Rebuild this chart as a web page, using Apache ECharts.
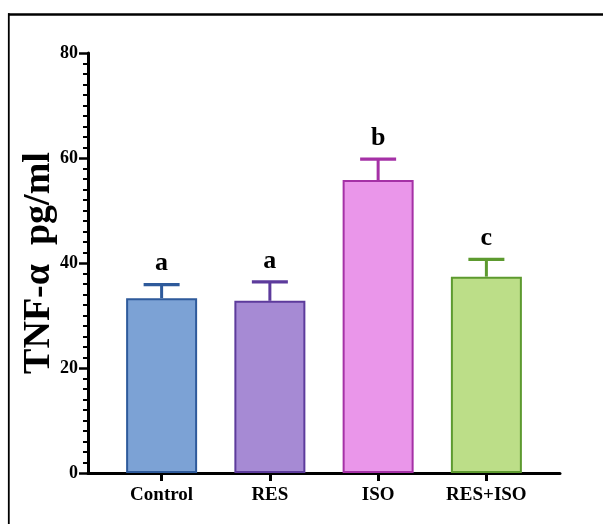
<!DOCTYPE html>
<html>
<head>
<meta charset="utf-8">
<script src="https://cdn.jsdelivr.net/npm/echarts@6/dist/echarts.min.js"></script>
<style>
html,body{margin:0;padding:0;background:#fff;}
#c{width:603px;height:524px;}
</style>
</head>
<body>
<div id="c"></div>
<script>
// ---- data ----
var categories = ['Control', 'RES', 'ISO', 'RES+ISO'];
var means = [33.3, 32.8, 55.8, 37.4];
var errors = [2.6, 3.6, 4.0, 3.3];
var letters = ['a', 'a', 'b', 'c'];
var yTicks = [0, 20, 40, 60, 80];
// ---- styles ----
var fills = ['#7ca2d5', '#a68ad4', '#ea96ea', '#bcde88'];
var borders = ['#2e5a9b', '#5d3b9c', '#a531a6', '#5d9a2f'];
var FONT = 'Liberation Serif';

var chart = echarts.init(document.getElementById('c'), null, {renderer: 'canvas'});

var idx = categories.map(function (_, i) { return i; });

var barData = means.map(function (m, i) {
  return {
    value: [i, m],
    itemStyle: {color: fills[i], borderColor: borders[i], borderWidth: 2}
  };
});
var errData = means.map(function (m, i) { return [i, m, m + errors[i]]; });

var option = {
  animation: false,
  backgroundColor: '#fff',
  graphic: [
    {type: 'line', silent: true, shape: {x1: 8, y1: 14.5, x2: 603, y2: 14.5}, style: {stroke: '#000', lineWidth: 2.4}},
    {type: 'line', silent: true, shape: {x1: 8.8, y1: 13.3, x2: 8.8, y2: 524}, style: {stroke: '#000', lineWidth: 1.8}}
  ],
  grid: {left: 88, top: 53, width: 472, height: 420, containLabel: false},
  xAxis: {
    type: 'value',
    min: -0.68,
    max: 3.68,
    splitLine: {show: false},
    axisLine: {show: true, onZero: false, lineStyle: {color: '#000', width: 3}},
    axisTick: {show: true, customValues: idx, length: 8, lineStyle: {color: '#000', width: 3}},
    axisLabel: {
      show: true,
      customValues: idx,
      margin: 13,
      color: '#000',
      fontFamily: FONT,
      fontWeight: 'bold',
      fontSize: 19,
      formatter: function (v) { return categories[Math.round(v)]; }
    }
  },
  yAxis: {
    type: 'value',
    min: yTicks[0],
    max: yTicks[yTicks.length - 1],
    interval: 20,
    name: 'TNF-α  pg/ml',
    nameLocation: 'middle',
    nameGap: 30,
    nameMoveOverlap: false,
    nameTextStyle: {color: '#000', fontFamily: FONT, fontWeight: 'bold', fontSize: 38},
    splitLine: {show: false},
    axisLine: {show: true, onZero: false, lineStyle: {color: '#000', width: 3}},
    axisTick: {show: true, length: 9, lineStyle: {color: '#000', width: 2.5}},
    minorTick: {show: true, splitNumber: 10, length: 5, lineStyle: {color: '#000', width: 2}},
    axisLabel: {margin: 10, color: '#000', fontFamily: FONT, fontWeight: 'bold', fontSize: 18}
  },
  series: [
    {
      type: 'bar',
      data: barData,
      barWidth: 71,
      z: 2
    },
    {
      type: 'custom',
      z: 3,
      data: errData,
      renderItem: function (params, api) {
        var i = params.dataIndex;
        var x = api.value(0);
        var base = api.coord([x, api.value(1)]);
        var top = api.coord([x, api.value(2)]);
        var c = borders[i];
        return {
          type: 'group',
          children: [
            {type: 'line', shape: {x1: base[0], y1: base[1], x2: top[0], y2: top[1]}, style: {stroke: c, lineWidth: 3}},
            {type: 'line', shape: {x1: top[0] - 18, y1: top[1], x2: top[0] + 18, y2: top[1]}, style: {stroke: c, lineWidth: 3.2}},
            {type: 'text', style: {
              text: letters[i], x: top[0], y: top[1] - 8,
              textAlign: 'center', textVerticalAlign: 'bottom',
              fill: '#000', font: 'bold 26px "' + FONT + '"'
            }}
          ]
        };
      }
    }
  ]
};
chart.setOption(option);
</script>
</body>
</html>
